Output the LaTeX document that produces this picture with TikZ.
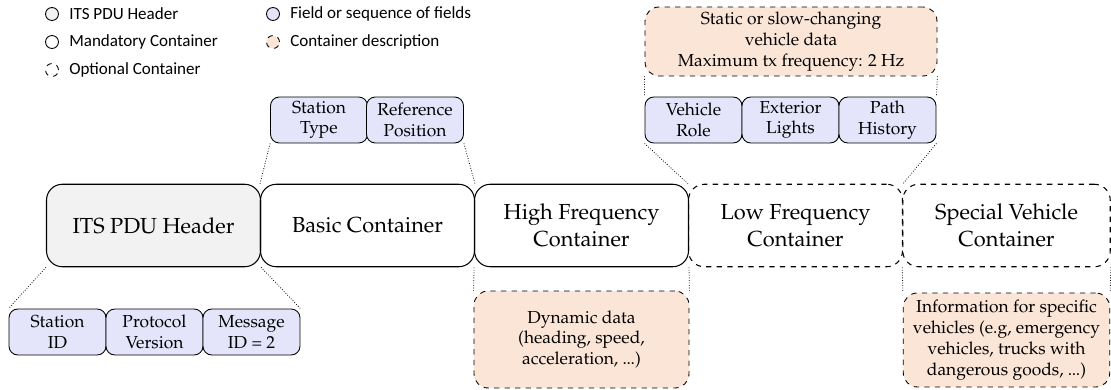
\documentclass[tikz,border=0pt]{standalone}
\usepackage{fontspec}
\newfontfamily\legendfont{Carlito}
\usepackage[T1]{fontenc}
\usepackage{mathpazo}
\usetikzlibrary{positioning,calc}
\definecolor{headergray}{RGB}{242,242,242}
\definecolor{fieldblue}{RGB}{228,228,250}
\definecolor{descpeach}{RGB}{251,229,214}
\newcommand{\tightdots}{.\kern-0.02em.\kern-0.02em.}

\begin{document}
\begin{tikzpicture}[
    x=0.02cm,y=-0.02cm,
    container/.style={draw,rounded corners=9pt,minimum width=4.28cm,minimum height=1.65cm,align=center,font=\fontsize{12.4}{15.5}\selectfont,line width=0.6pt},
    optional/.style={container,dashed},
    field/.style={draw,fill=fieldblue,rounded corners=5pt,minimum width=1.94cm,minimum height=0.92cm,align=center,font=\fontsize{9.9}{11.8}\selectfont,inner sep=1pt,line width=0.5pt},
    desc/.style={draw,dashed,fill=descpeach,rounded corners=8pt,align=center,font=\fontsize{9.9}{11.9}\selectfont,inner sep=1pt,line width=0.5pt},
    link/.style={densely dotted,line width=0.45pt},
    legend/.style={circle,draw,minimum size=0.26cm,inner sep=0pt,line width=0.5pt},
    legendtext/.style={right=0.2cm of #1,inner sep=0pt,font=\legendfont\fontsize{9.7}{11}\selectfont}
]
\useasboundingbox (0,0) rectangle (1111,389);

% Legend
\node[legend,fill=headergray] (lgheader) at (52,14) {};
\node[legendtext=lgheader] {ITS PDU Header};
\node[legend] (lgmand) at (52,42) {};
\node[legendtext=lgmand] {Mandatory Container};
\node[legend,dashed] (lgopt) at (52,70) {};
\node[legendtext=lgopt] {Optional Container};
\node[legend,fill=fieldblue] (lgfield) at (273,14) {};
\node[legendtext=lgfield] {Field or sequence of fields};
\node[legend,dashed,fill=descpeach] (lgdesc) at (273,42) {};
\node[legendtext=lgdesc] {Container description};

% Containers
\node[container,fill=headergray] (its) at (153.5,225.5) {ITS PDU Header};
\node[container] (basic) at (367.5,225.5) {Basic Container};
\node[container] (hf) at (581.5,225.5) {High Frequency\\Container};
\node[optional] (lf) at (795.5,225.5) {Low Frequency\\Container};
\node[optional,minimum width=4.15cm] (sv) at (1006.5,225.5) {Special Vehicle\\Container};

% ITS PDU header fields
\node[field] (sid) at (57.5,332) {Station\\ID};
\node[field] (pver) at (154.5,332) {Protocol\\Version};
\node[field] (mid) at (251.5,332) {Message\\ID = 2};

% Basic container fields
\node[field] (stype) at (319,120) {Station\\Type};
\node[field] (rpos) at (415,120) {Reference\\Position};

% Low frequency fields and description
\node[field] (vrole) at (693.5,120) {Vehicle\\Role};
\node[field] (elights) at (790.5,120) {Exterior\\Lights};
\node[field] (phist) at (887.5,120) {Path\\History};
\node[desc,minimum width=5.84cm,minimum height=1.38cm] (lfdesc) at (791,41.5) {Static or slow-changing\\vehicle data\\Maximum tx frequency: 2 Hz};

% Descriptions below
\node[desc,minimum width=4.3cm,minimum height=1.94cm] (hfdesc) at (581.5,339.5) {Dynamic data\\(heading, speed,\\acceleration, \tightdots)};
\node[desc,minimum width=4.13cm,minimum height=1.88cm] (svdesc) at (1006.5,340) {Information for specific\\vehicles (e.g, emergency\\vehicles, trucks with\\dangerous goods, \tightdots)};

% Connections
\draw[link] (its.south west) -- (sid.north west);
\draw[link] (its.south east) -- (mid.north east);
\draw[link] (stype.south west) -- (basic.north west);
\draw[link] (rpos.south east) -- (basic.north east);
\draw[link] (hf.south west) -- (hfdesc.north west);
\draw[link] (hf.south east) -- (hfdesc.north east);
\draw[link] (lfdesc.south west) -- (vrole.north west);
\draw[link] (lfdesc.south east) -- (phist.north east);
\draw[link] (vrole.south west) -- (lf.north west);
\draw[link] (phist.south east) -- (lf.north east);
\draw[link] (sv.south west) -- (svdesc.north west);
\draw[link] (sv.south east) -- (svdesc.north east);

\end{tikzpicture}
\end{document}
